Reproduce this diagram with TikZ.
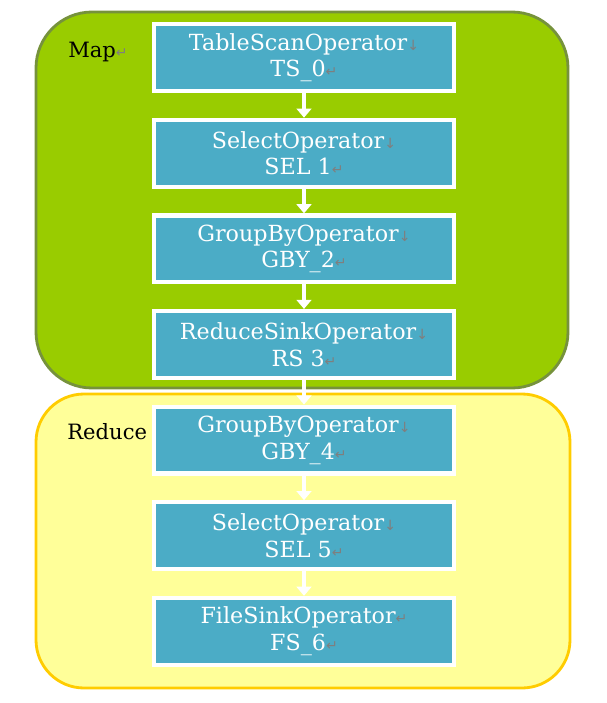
\documentclass[tikz,border=0pt]{standalone}
\usepackage{fontspec}
\setmainfont{DejaVu Serif}
\newfontfamily\symfont{DejaVu Sans}
\usepackage{xcolor}
\usetikzlibrary{arrows.meta,positioning,shadows}
\definecolor{leaf}{HTML}{99CC00}
\definecolor{moss}{HTML}{76923C}
\definecolor{butter}{HTML}{FFFF99}
\definecolor{gold}{HTML}{FFCC00}
\definecolor{opblue}{HTML}{4BACC6}
\definecolor{pmark}{HTML}{7F7F7F}
\newcommand{\dnk}{{\symfont\color{pmark}\fontsize{10}{10}\selectfont ↓}}
\newcommand{\rtk}{{\symfont\color{pmark}\fontsize{10}{10}\selectfont ↵}}

\begin{document}
\begin{tikzpicture}[
  op/.style={draw=white, line width=3pt, fill=opblue, minimum width=7.5cm, minimum height=1.67cm, align=center, text=white, font=\fontsize{15.8}{19}\selectfont, drop shadow={opacity=0.25, shadow xshift=0.04cm, shadow yshift=-0.05cm}},
  stage/.style={font=\fontsize{15}{18}\selectfont, text=black},
  flow/.style={draw=white, line width=3.5pt, -{Triangle[width=10.5pt,length=6.5pt]}},
  node distance=0.615cm
]
  \useasboundingbox (0,0) rectangle (15.15,-17.575);
  % map and reduce regions
  \draw[fill=leaf, draw=moss, line width=2pt, rounded corners=1.4cm] (0.9,-0.3) rectangle (14.2,-9.7);
  \draw[fill=butter, draw=gold, line width=2pt, rounded corners=1.2cm] (0.9,-9.85) rectangle (14.25,-17.2);
  \node[stage] (map) at (2.45,-1.3) {Map\rtk};
  \node[stage] (reduce) at (2.68,-10.78) {Reduce};

  % operator chain
  \node[op] (ts0) at (7.6,-1.44) {TableScanOperator\dnk\\TS\_0\rtk};
  \node[op, below=of ts0] (sel1) {SelectOperator\dnk\\SEL 1\rtk};
  \node[op, below=of sel1] (gby2) {GroupByOperator\dnk\\GBY\_2\rtk};
  \node[op, below=of gby2] (rs3) {ReduceSinkOperator\dnk\\RS 3\rtk};
  \node[op, below=of rs3] (gby4) {GroupByOperator\dnk\\GBY\_4\rtk};
  \node[op, below=of gby4] (sel5) {SelectOperator\dnk\\SEL 5\rtk};
  \node[op, below=of sel5] (fs6) {FileSinkOperator\rtk\\FS\_6\rtk};

  \foreach \a/\b in {ts0/sel1, sel1/gby2, gby2/rs3, rs3/gby4, gby4/sel5, sel5/fs6}
    \draw[flow] (\a.south) -- (\b.north);
\end{tikzpicture}
\end{document}
